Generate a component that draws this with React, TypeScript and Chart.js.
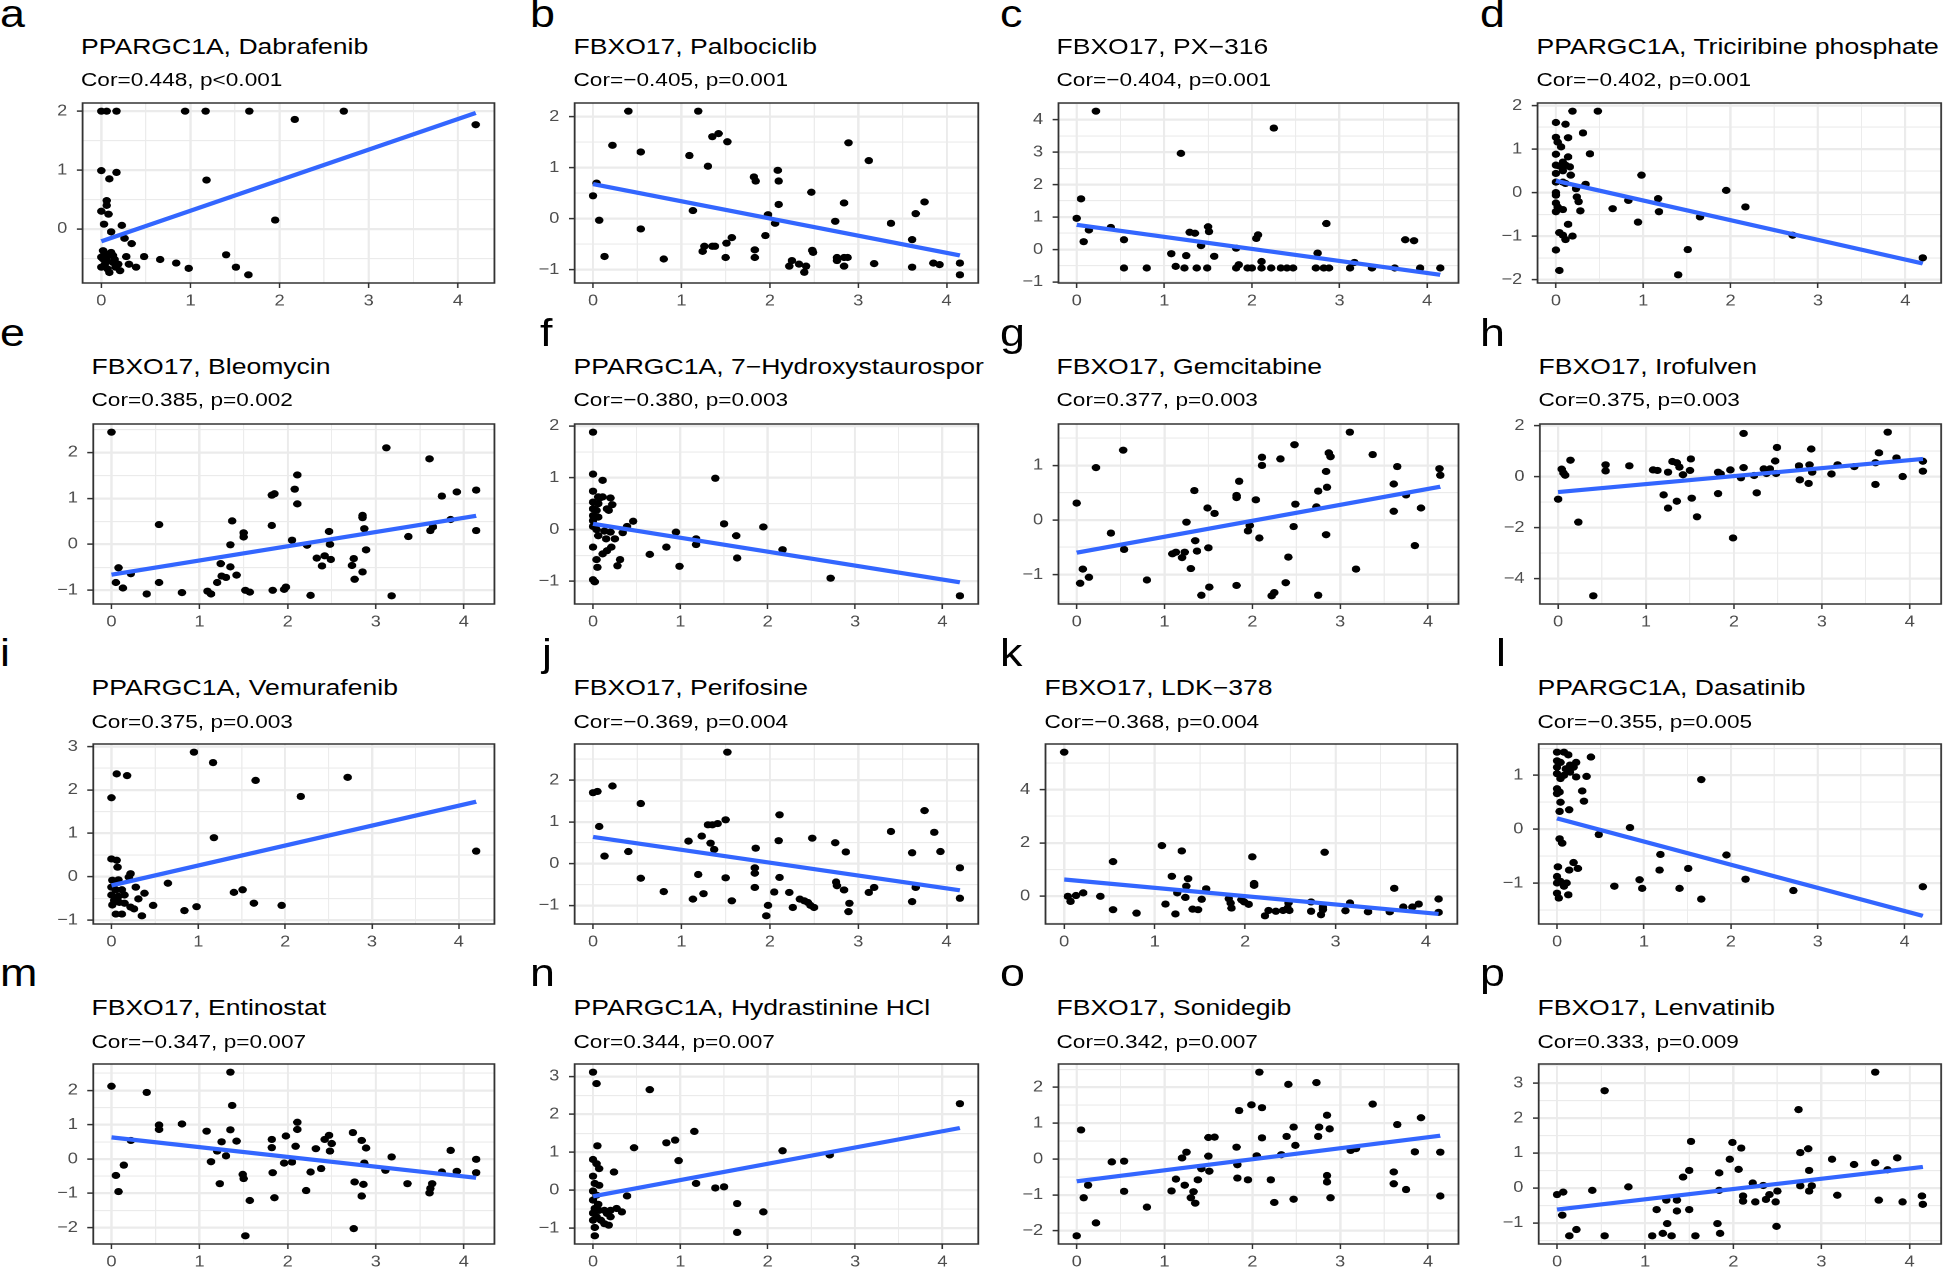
import React, { useEffect, useRef } from 'react';
import { Chart, registerables } from 'chart.js';
Chart.register(...registerables);

type P = [number, number];

// ---------- data ----------
const ptsA: P[] = [[0,2],[0.06,2],[0.17,2],[0.94,2],[1.17,2],[1.66,2],[2.72,2],[2.17,1.86],[4.2,1.77],[0,0.99],[0.17,0.96],[0.09,0.85],[1.18,0.83],[0.06,0.48],[0.06,0.4],[0,0.3],[0.08,0.25],[0.03,0.08],[0.23,0.06],[1.95,0.15],[0.11,-0.05],[0.26,-0.16],[0.34,-0.25],[0.02,-0.37],[0.04,-0.42],[0.09,-0.45],[0.13,-0.45],[0.02,-0.51],[0.06,-0.54],[0.13,-0.57],[0.19,-0.6],[0,-0.65],[0.07,-0.68],[0.16,-0.65],[0.09,-0.74],[0.21,-0.71],[0.28,-0.47],[0.31,-0.6],[0.39,-0.65],[0.48,-0.47],[0.66,-0.52],[0.84,-0.58],[0.98,-0.67],[1.4,-0.44],[1.51,-0.65],[1.65,-0.78],[0,-0.48],[0.04,-0.6],[0.11,-0.4],[0.15,-0.52]];
const fitA: P = [-0.21, 1.97];

const ptsB: P[] = [[0.4,2.11],[1.19,2.11],[0.22,1.44],[0.54,1.31],[1.35,1.61],[1.42,1.67],[1.52,1.51],[1.09,1.24],[1.3,1.03],[2.89,1.49],[3.12,1.14],[1.82,0.82],[1.84,0.74],[2.09,0.95],[2.1,0.74],[0.04,0.7],[0,0.45],[2.47,0.52],[2.84,0.31],[3.75,0.33],[2.1,0.28],[1.13,0.16],[3.65,0.1],[1.98,0.08],[0.07,-0.03],[2.06,-0.09],[2.74,-0.05],[3.37,-0.09],[0.54,-0.2],[1.95,-0.33],[1.57,-0.37],[3.61,-0.41],[1.51,-0.48],[1.26,-0.54],[1.35,-0.54],[1.38,-0.54],[1.24,-0.64],[1.83,-0.61],[2.48,-0.62],[2.49,-0.66],[0.13,-0.74],[1.83,-0.76],[1.5,-0.76],[0.8,-0.79],[2.76,-0.76],[2.76,-0.82],[2.84,-0.76],[2.88,-0.76],[2.25,-0.82],[2.33,-0.89],[2.22,-0.93],[2.41,-0.93],[2.84,-0.93],[2.39,-1.05],[3.18,-0.88],[3.61,-0.95],[3.85,-0.87],[3.92,-0.9],[4.15,-0.87],[4.15,-1.1]];
const fitB: P = [0.68, -0.72];

const ptsC: P[] = [[0.22,4.26],[2.25,3.74],[1.19,2.96],[0.05,1.56],[0,0.96],[2.85,0.8],[0.39,0.68],[0.14,0.6],[1.5,0.7],[1.51,0.55],[1.29,0.53],[1.35,0.5],[0.08,0.24],[0.54,0.3],[2.07,0.45],[2.05,0.34],[3.75,0.3],[3.85,0.27],[1.42,0.12],[1.82,0.04],[1.08,-0.13],[1.25,-0.19],[1.57,-0.21],[2.75,-0.11],[2.11,-0.37],[1.85,-0.47],[3.17,-0.4],[0.54,-0.57],[0.8,-0.57],[1.13,-0.52],[1.23,-0.57],[1.37,-0.57],[1.49,-0.57],[1.82,-0.57],[1.95,-0.57],[2.0,-0.57],[2.11,-0.57],[2.22,-0.57],[2.33,-0.57],[2.4,-0.57],[2.47,-0.57],[2.73,-0.57],[2.82,-0.57],[2.88,-0.57],[3.12,-0.57],[3.37,-0.57],[3.63,-0.57],[3.92,-0.57],[4.15,-0.57]];
const fitC: P = [0.76, -0.78];

const ptsD: P[] = [[0.19,1.87],[0.48,1.87],[0,1.61],[0.11,1.57],[0.31,1.37],[0,1.27],[0.14,1.26],[0.02,1.16],[0.06,1.05],[0.39,0.89],[0,0.88],[0.14,0.82],[0.08,0.7],[0,0.63],[0.04,0.61],[0.11,0.63],[0.16,0.59],[0,0.44],[0.08,0.5],[0.17,0.4],[0.98,0.4],[0,0.24],[0.08,0.24],[0.11,0.21],[0.34,0.19],[0.23,0.09],[0,0],[0,-0.06],[1.95,0.05],[0.24,-0.1],[0.26,-0.21],[0.83,-0.18],[1.17,-0.14],[0,-0.24],[0.02,-0.33],[2.17,-0.33],[0.08,-0.39],[0,-0.44],[0.28,-0.42],[0.65,-0.37],[1.18,-0.44],[1.65,-0.56],[0.14,-0.73],[0.94,-0.68],[0.04,-0.92],[0.08,-0.98],[0.19,-1.0],[0.11,-1.08],[2.71,-0.98],[0,-1.32],[1.51,-1.31],[0.04,-1.79],[1.4,-1.89],[4.2,-1.5]];
const fitD: P = [0.27, -1.63];

const ptsE: P[] = [[0,2.44],[3.12,2.1],[3.61,1.86],[2.11,1.51],[2.08,1.2],[2.11,0.88],[1.85,1.1],[1.82,1.07],[3.75,1.05],[3.92,1.14],[4.14,1.18],[2.85,0.63],[2.85,0.58],[2.87,0.34],[3.85,0.54],[4.14,0.3],[3.62,0.3],[3.65,0.38],[3.37,0.17],[2.47,0.28],[0.54,0.43],[1.37,0.51],[1.82,0.41],[1.5,0.25],[1.5,0.16],[2.05,0.09],[1.35,-0.01],[2.22,-0.02],[2.48,0],[2.89,-0.12],[2.33,-0.3],[2.42,-0.25],[2.49,-0.33],[2.39,-0.47],[2.75,-0.31],[2.73,-0.46],[1.24,-0.42],[1.35,-0.49],[0.08,-0.51],[0.22,-0.64],[1.25,-0.69],[1.3,-0.72],[1.42,-0.67],[1.2,-0.83],[0.05,-0.83],[0.54,-0.83],[2.76,-0.76],[2.85,-0.6],[0.13,-0.95],[0.4,-1.08],[0.8,-1.05],[1.09,-1.02],[1.13,-1.08],[1.52,-1.0],[1.57,-1.04],[1.83,-1.0],[1.96,-0.98],[1.98,-0.93],[2.26,-1.11],[3.18,-1.12]];
const fitE: P = [-0.66, 0.62];

const ptsF: P[] = [[0,1.88],[0,1.07],[0.11,0.95],[1.4,0.99],[0,0.74],[0.06,0.63],[0.08,0.61],[0.11,0.63],[0.2,0.61],[0,0.53],[0.06,0.5],[0.22,0.48],[0,0.4],[0.04,0.37],[0.16,0.4],[0.18,0.37],[0,0.27],[0.06,0.24],[0,0.17],[0.46,0.16],[1.5,0.11],[1.95,0.05],[0.39,0.06],[0,0.06],[0.04,0],[0.13,-0.03],[0.2,-0.05],[0.34,-0.06],[0.95,-0.05],[0.06,-0.12],[0.15,-0.18],[0.25,-0.18],[1.64,-0.12],[1.18,-0.18],[1.18,-0.29],[0.84,-0.34],[0,-0.34],[0.21,-0.34],[0.16,-0.41],[2.17,-0.39],[0.11,-0.47],[0.65,-0.48],[1.65,-0.55],[0.31,-0.58],[0.04,-0.58],[0.28,-0.7],[0.05,-0.73],[0.99,-0.71],[2.72,-0.94],[0,-0.97],[0.02,-1.01],[4.2,-1.28]];
const fitF: P = [0.11, -1.02];

const ptsG: P[] = [[3.11,1.61],[2.48,1.38],[0.53,1.28],[3.37,1.2],[2.87,1.23],[2.89,1.16],[2.11,1.15],[2.32,1.12],[2.11,1.0],[0.22,0.96],[3.65,0.98],[4.13,0.94],[4.14,0.82],[2.84,0.89],[1.85,0.71],[3.61,0.66],[2.85,0.6],[2.75,0.53],[1.34,0.54],[1.82,0.45],[1.82,0.41],[2.04,0.37],[3.75,0.46],[0,0.31],[2.49,0.29],[2.73,0.24],[1.49,0.22],[3.92,0.22],[1.57,0.12],[3.61,0.16],[1.25,-0.04],[1.97,-0.1],[2.47,-0.12],[1.95,-0.2],[0.39,-0.24],[2.08,-0.33],[2.84,-0.27],[1.35,-0.38],[1.5,-0.51],[0.54,-0.54],[1.37,-0.57],[3.85,-0.47],[1.09,-0.62],[1.13,-0.59],[1.23,-0.59],[1.2,-0.69],[2.41,-0.68],[1.3,-0.89],[0.07,-0.9],[3.18,-0.9],[0.14,-1.05],[0.04,-1.16],[0.8,-1.1],[1.82,-1.2],[1.51,-1.23],[2.38,-1.15],[1.42,-1.38],[2.25,-1.33],[2.22,-1.39],[2.75,-1.38]];
const fitG: P = [-0.6, 0.61];

const ptsH: P[] = [[3.75,1.74],[2.11,1.69],[2.49,1.14],[2.88,1.08],[3.65,0.93],[0.14,0.64],[1.51,0.69],[3.85,0.73],[0.54,0.46],[0.81,0.42],[1.3,0.59],[1.35,0.54],[2.47,0.61],[2.74,0.42],[2.86,0.46],[3.18,0.46],[3.37,0.39],[3.61,0.54],[4.15,0.6],[1.08,0.26],[1.13,0.24],[0.54,0.22],[1.38,0.37],[1.25,0.17],[1.42,0.07],[1.5,0.24],[1.82,0.17],[1.85,0.1],[1.96,0.26],[2.11,0.35],[2.34,0.3],[2.41,0.3],[2.37,0.12],[2.23,0.04],[2.08,-0.05],[2.48,0.12],[2.89,0.17],[3.11,0.1],[2.75,-0.13],[2.85,-0.27],[3.92,0],[4.15,0.21],[0.04,0.29],[0.06,0.14],[0.08,0.05],[3.61,-0.31],[1.2,-0.72],[2.26,-0.64],[1.82,-0.67],[1.52,-0.85],[1.35,-0.97],[1.25,-1.24],[1.58,-1.58],[0,-0.89],[0.23,-1.79],[1.99,-2.41],[0.4,-4.68]];
const fitH: P = [-0.61, 0.69];

const ptsI: P[] = [[0.95,2.87],[1.17,2.63],[0.06,2.37],[0.18,2.33],[2.72,2.29],[1.66,2.22],[2.18,1.85],[0,1.82],[1.18,0.9],[4.2,0.59],[0,0.41],[0.06,0.38],[0.07,0.22],[0.22,0.07],[0.2,-0.01],[0.01,-0.08],[0.08,-0.07],[0.65,-0.15],[0.28,-0.24],[0,-0.24],[0.05,-0.3],[0.12,-0.3],[0.38,-0.38],[1.41,-0.36],[1.51,-0.3],[0,-0.42],[0.08,-0.45],[0.15,-0.42],[0.31,-0.51],[0.03,-0.55],[0.09,-0.59],[0.01,-0.65],[0.48,-0.66],[1.64,-0.61],[1.96,-0.66],[0.98,-0.69],[0.84,-0.78],[0.22,-0.7],[0.26,-0.74],[0.05,-0.86],[0.12,-0.86],[0.35,-0.9],[0.06,-0.53],[0.15,-0.61]];
const fitI: P = [-0.2, 1.73];

const ptsJ: P[] = [[1.52,2.67],[0.22,1.86],[0,1.7],[0.05,1.73],[0.54,1.44],[2.11,1.17],[3.75,1.27],[1.5,1.05],[1.41,0.96],[1.3,0.93],[1.35,0.93],[3.37,0.77],[3.86,0.75],[0.07,0.89],[1.23,0.66],[1.08,0.54],[2.1,0.55],[2.48,0.61],[1.33,0.49],[2.74,0.5],[1.37,0.34],[1.84,0.37],[0.4,0.29],[2.86,0.28],[3.61,0.26],[3.93,0.29],[0.13,0.18],[4.15,-0.1],[1.83,-0.1],[1.83,-0.23],[1.19,-0.26],[0.54,-0.35],[1.5,-0.34],[2.11,-0.33],[2.75,-0.44],[2.76,-0.53],[1.83,-0.57],[2.84,-0.63],[3.18,-0.57],[3.12,-0.69],[3.65,-0.57],[0.8,-0.67],[1.25,-0.72],[2.05,-0.68],[2.22,-0.69],[4.15,-0.83],[1.13,-0.85],[1.57,-0.89],[2.34,-0.85],[2.39,-0.89],[2.43,-0.93],[2.46,-1.0],[2.5,-1.05],[2.9,-0.95],[3.61,-0.91],[1.98,-1.0],[2.26,-1.05],[2.89,-1.15],[1.96,-1.25]];
const fitJ: P = [0.64, -0.64];

const ptsK: P[] = [[0,5.4],[1.08,1.9],[1.3,1.7],[2.88,1.65],[2.08,1.48],[0.54,1.3],[1.19,0.75],[1.37,0.66],[2.1,0.48],[2.1,0.41],[1.35,0.38],[3.65,0.3],[1.57,0.28],[0.21,0.13],[1.25,0.13],[0.13,0.03],[0.4,0],[0.04,0],[0.07,-0.19],[1.34,-0.04],[1.52,-0.11],[1.82,-0.09],[1.96,-0.13],[1.84,-0.25],[1.99,-0.21],[2.04,-0.3],[1.12,-0.29],[2.73,-0.21],[3.16,-0.25],[4.14,-0.1],[2.48,-0.25],[2.86,-0.4],[1.85,-0.44],[1.42,-0.48],[1.48,-0.5],[0.54,-0.5],[2.26,-0.53],[2.34,-0.56],[2.42,-0.53],[2.49,-0.53],[2.47,-0.44],[2.73,-0.56],[2.86,-0.5],[3.11,-0.54],[3.36,-0.58],[3.6,-0.58],[3.75,-0.4],[3.85,-0.4],[3.92,-0.29],[4.14,-0.6],[0.8,-0.63],[1.23,-0.66],[2.84,-0.69],[2.22,-0.73]];
const fitK: P = [0.63, -0.66];

const ptsL: P[] = [[0,1.43],[0.08,1.43],[0.13,1.38],[0.39,1.34],[0,1.27],[0.04,1.24],[0.22,1.24],[0.15,1.19],[0,1.15],[0.1,1.12],[0.19,1.15],[0,1.03],[0.08,1.0],[0.15,1.06],[0.22,0.97],[0.34,0.98],[0.04,0.94],[1.66,0.92],[0,0.75],[0.03,0.69],[0,0.66],[0.29,0.71],[0.31,0.52],[0.04,0.5],[0.14,0.36],[0.03,0.33],[0.84,0.03],[0.48,-0.1],[0.03,-0.18],[0.06,-0.26],[1.19,-0.47],[1.95,-0.48],[0.19,-0.62],[0.24,-0.73],[0.14,-0.76],[0.01,-0.7],[1.51,-0.73],[1.18,-0.76],[0,-0.88],[0.04,-0.97],[0.11,-1.0],[0,-1.0],[0.08,-1.06],[0.95,-0.94],[2.17,-0.93],[0.66,-1.06],[0.98,-1.1],[1.41,-1.1],[4.21,-1.07],[0,-1.19],[0.13,-1.22],[0.02,-1.28],[2.72,-1.14],[1.66,-1.3]];
const fitL: P = [0.2, -1.61];

const ptsM: P[] = [[1.35,2.53],[0,2.12],[0.4,1.94],[1.37,1.56],[2.11,1.07],[0.54,0.99],[0.8,1.02],[0.54,0.86],[1.08,0.81],[1.35,0.85],[2.11,0.86],[2.74,0.77],[2.47,0.69],[1.98,0.67],[2.42,0.57],[1.82,0.57],[2.84,0.54],[1.25,0.5],[1.42,0.52],[0.22,0.54],[2.5,0.45],[2.09,0.37],[1.82,0.33],[2.32,0.3],[2.89,0.32],[3.85,0.25],[1.2,0.23],[2.48,0.23],[1.3,0.09],[3.18,0.06],[4.14,-0.01],[1.13,-0.08],[1.96,-0.12],[2.05,-0.09],[2.87,-0.12],[0.14,-0.18],[3.11,-0.33],[2.38,-0.28],[2.26,-0.38],[3.75,-0.38],[3.92,-0.36],[1.83,-0.4],[4.14,-0.4],[0.05,-0.48],[1.49,-0.45],[1.5,-0.57],[2.76,-0.67],[1.23,-0.72],[2.86,-0.74],[3.36,-0.72],[3.64,-0.72],[3.62,-0.86],[0.08,-0.95],[2.21,-0.92],[3.61,-0.99],[2.84,-1.08],[1.85,-1.13],[1.57,-1.21],[2.75,-2.03],[1.52,-2.24]];
const fitM: P = [0.63, -0.55];

const ptsN: P[] = [[0,3.11],[0.04,2.81],[0.65,2.65],[4.2,2.28],[1.16,1.55],[0.94,1.32],[0.84,1.25],[0.47,1.12],[0.05,1.17],[2.17,1.04],[2.71,0.93],[0,0.81],[0.98,0.78],[0.04,0.7],[0.07,0.57],[0.24,0.48],[0,0.37],[0.02,0.18],[0.07,0.13],[1.18,0.18],[1.4,0.06],[1.5,0.09],[0,-0.02],[0.04,-0.13],[0.39,-0.15],[0,-0.26],[0.06,-0.37],[1.65,-0.35],[0.02,-0.48],[0.13,-0.53],[0.27,-0.48],[0.33,-0.57],[0,-0.6],[0.16,-0.61],[1.95,-0.57],[0.04,-0.7],[0.09,-0.79],[0.2,-0.7],[0,-0.79],[0.13,-0.88],[0.18,-0.92],[0.02,-0.98],[1.65,-1.11],[0.02,-1.2],[0.07,-0.53],[0.2,-0.53]];
const fitN: P = [-0.16, 1.64];

const ptsO: P[] = [[2.08,2.42],[2.73,2.13],[2.41,2.08],[3.37,1.53],[1.99,1.51],[2.11,1.43],[1.85,1.35],[2.85,1.22],[3.92,1.15],[2.47,0.89],[2.76,0.89],[3.65,0.96],[2.88,0.84],[0.05,0.81],[1.5,0.6],[1.57,0.61],[2.39,0.63],[2.75,0.63],[2.11,0.59],[2.49,0.38],[1.82,0.33],[3.12,0.24],[3.18,0.29],[3.85,0.2],[4.14,0.19],[1.25,0.19],[2.05,0.09],[1.5,0.08],[2.33,0.12],[1.2,0.03],[0.4,-0.08],[0.54,-0.06],[1.83,-0.16],[1.42,-0.27],[1.51,-0.34],[1.38,-0.58],[1.13,-0.56],[1.83,-0.53],[1.95,-0.58],[2.21,-0.58],[2.85,-0.46],[2.85,-0.64],[3.61,-0.36],[3.61,-0.69],[0.13,-0.73],[1.23,-0.73],[3.75,-0.85],[1.08,-0.89],[1.33,-0.91],[0.54,-0.9],[0.08,-1.08],[1.3,-1.08],[2.89,-1.08],[2.47,-1.12],[4.14,-1.03],[1.35,-1.23],[2.25,-1.21],[0.8,-1.34],[0.22,-1.78],[0,-2.14]];
const fitO: P = [-0.62, 0.65];

const ptsP: P[] = [[3.61,3.31],[0.54,2.78],[2.74,2.24],[1.52,1.33],[1.99,1.3],[2.09,1.14],[2.85,1.12],[2.76,1.01],[1.96,0.82],[3.12,0.82],[3.86,0.86],[3.61,0.72],[3.37,0.67],[2.06,0.53],[1.5,0.5],[2.86,0.5],[3.75,0.52],[1.84,0.43],[1.43,0.31],[2.22,0.14],[2.34,0.07],[2.76,0.06],[2.89,0.06],[0.81,0.03],[2.86,-0.09],[2.5,-0.09],[1.84,-0.07],[2.11,-0.23],[2.41,-0.19],[4.14,-0.23],[0.4,-0.07],[0.07,-0.12],[0,-0.19],[1.24,-0.35],[1.36,-0.35],[2.11,-0.38],[2.25,-0.4],[2.37,-0.33],[2.48,-0.4],[3.65,-0.35],[3.92,-0.4],[3.18,-0.21],[4.15,-0.47],[1.13,-0.62],[1.5,-0.62],[1.36,-0.66],[0.06,-0.78],[1.82,-1.02],[1.25,-1.02],[2.49,-1.1],[1.85,-1.3],[1.2,-1.3],[0.22,-1.19],[0.14,-1.37],[0.54,-1.37],[1.08,-1.37],[1.3,-1.37],[1.57,-1.37]];
const fitP: P = [-0.62, 0.6];

const LETTERS = ['a','b','c','d','e','f','g','h','i','j','k','l','m','n','o','p'];
const GENES = ['PPARGC1A','FBXO17','FBXO17','PPARGC1A','FBXO17','PPARGC1A','FBXO17','FBXO17','PPARGC1A','FBXO17','FBXO17','PPARGC1A','FBXO17','PPARGC1A','FBXO17','FBXO17'];
const DRUGS = ['Dabrafenib','Palbociclib','PX\u2212316','Triciribine phosphate','Bleomycin','7\u2212Hydroxystaurospor','Gemcitabine','Irofulven','Vemurafenib','Perifosine','LDK\u2212378','Dasatinib','Entinostat','Hydrastinine HCl','Sonidegib','Lenvatinib'];
const CORS = ['0.448','\u22120.405','\u22120.404','\u22120.402','0.385','\u22120.380','0.377','0.375','0.375','\u22120.369','\u22120.368','\u22120.355','\u22120.347','0.344','0.342','0.333'];
const PVALS = ['<0.001','=0.001','=0.001','=0.001','=0.002','=0.003','=0.003','=0.003','=0.003','=0.004','=0.004','=0.005','=0.007','=0.007','=0.007','=0.009'];
const Y_STEPS = [1,1,1,1, 1,1,1,2, 1,1,2,1, 1,1,1,1];
const POINTS = [ptsA,ptsB,ptsC,ptsD,ptsE,ptsF,ptsG,ptsH,ptsI,ptsJ,ptsK,ptsL,ptsM,ptsN,ptsO,ptsP];
const FITS = [fitA,fitB,fitC,fitD,fitE,fitF,fitG,fitH,fitI,fitJ,fitK,fitL,fitM,fitN,fitO,fitP];

// ---------- layout (reference pixels) ----------
const S = 1.18; // horizontal stretch of the reference figure
const FONT = '"Liberation Sans", Arial, Helvetica, sans-serif';
const ROW_TOP = [103, 424, 744, 1064];
const BOX_H = 180;
const COL_RIGHT = [494, 978, 1458, 1941];
const BOX_LEFT = [[82.5, 575, 1058, 1538], [93, 575, 1058, 1540], [93, 575, 1046, 1539], [93, 575, 1058, 1539]];
const TITLE_BASE = [55, 375, 696, 1016];
const SUB_BASE = [86.5, 406.5, 728, 1048];
const LETTER_BASE = [27, 346, 666, 986];
const LETTER_X = [[0, 530, 1000, 1480], [0, 540, 1000, 1480], [0, 542, 1000, 1496], [0, 530, 1000, 1480]];
const YW = 40, PT = 26, PR = 8, XH = 32;

const fmt = (v: number) => (v < 0 ? '\u2212' + Math.abs(v) : String(v));
const isMajor = (v: number, step: number) => Math.abs(v / step - Math.round(v / step)) < 1e-6;
const makeTicks = (min: number, max: number, step: number) => {
  const out: { value: number }[] = [];
  for (let k = Math.ceil(min / step - 1e-9); k * step <= max + 1e-9; k++) out.push({ value: Math.round(k * step * 1000) / 1000 });
  return out;
};

const framePlugin = {
  id: 'frame',
  afterDraw(chart: any) {
    const { ctx, chartArea: a } = chart;
    ctx.save();
    ctx.strokeStyle = '#333333';
    ctx.lineWidth = 1.5;
    ctx.strokeRect(a.left, a.top, a.right - a.left, a.bottom - a.top);
    ctx.restore();
  },
};

function axis(min: number, max: number, step: number, horizontal: boolean) {
  const minor = step / 2;
  return {
    type: 'linear',
    min,
    max,
    afterFit: (s: any) => { if (horizontal) s.height = XH; else s.width = YW; },
    afterBuildTicks: (s: any) => { s.ticks = makeTicks(s.min, s.max, minor); },
    border: { display: false },
    grid: {
      color: '#EBEBEB',
      lineWidth: (c: any) => (c.tick && isMajor(c.tick.value, step) ? (horizontal ? 1.9 : 2.2) : (horizontal ? 0.95 : 1.1)),
      tickColor: (c: any) => (c.tick && isMajor(c.tick.value, step) ? '#333333' : 'rgba(0,0,0,0)'),
      tickLength: 5,
      tickWidth: horizontal ? 1.3 : 1.5,
      drawTicks: true,
    },
    ticks: {
      autoSkip: false,
      maxRotation: 0,
      minRotation: 0,
      padding: horizontal ? 4 : 8,
      color: '#4D4D4D',
      font: { family: FONT, size: 15.5 },
      callback: (v: any) => (isMajor(Number(v), step) ? fmt(Number(v)) : ''),
    },
  };
}

function Panel({ idx }: { idx: number }) {
  const ref = useRef<HTMLCanvasElement>(null);
  const r = Math.floor(idx / 4), c = idx % 4;
  const left = BOX_LEFT[r][c], right = COL_RIGHT[c], top = ROW_TOP[r];
  const boxW = (right - left) / S;
  const cw = boxW + YW + PR;
  const ch = BOX_H + PT + XH;
  const cl = left / S - YW;
  const ct = top - PT;

  useEffect(() => {
    const pts = POINTS[idx];
    const fit = FITS[idx];
    const xs = pts.map((p) => p[0]);
    const ys = pts.map((p) => p[1]);
    const xmin = Math.min(...xs), xmax = Math.max(...xs);
    const ymin = Math.min(...ys, ...fit), ymax = Math.max(...ys, ...fit);
    const xr = xmax - xmin, yr = ymax - ymin;
    const chart = new Chart(ref.current as HTMLCanvasElement, {
      type: 'scatter',
      data: {
        datasets: [
          {
            data: pts.map(([x, y]) => ({ x, y })),
            pointRadius: 3.6,
            pointHoverRadius: 3.6,
            pointBackgroundColor: '#000000',
            backgroundColor: '#000000',
            pointBorderWidth: 0,
            borderWidth: 0,
            order: 1,
          },
          {
            data: [{ x: xmin, y: fit[0] }, { x: xmax, y: fit[1] }],
            showLine: true,
            borderColor: '#3366FF',
            borderWidth: 4.2,
            pointRadius: 0,
            order: 0,
          },
        ],
      },
      options: {
        animation: false,
        responsive: false,
        devicePixelRatio: 2,
        layout: { padding: { left: 0, top: PT, right: PR, bottom: 0 } },
        plugins: { legend: { display: false }, tooltip: { enabled: false }, title: { display: false } },
        scales: {
          x: axis(xmin - 0.05 * xr, xmax + 0.05 * xr, 1, true) as any,
          y: axis(ymin - 0.05 * yr, ymax + 0.05 * yr, Y_STEPS[idx], false) as any,
        },
      },
      plugins: [framePlugin],
    } as any);
    return () => chart.destroy();
  }, [idx]);

  const titleFs = 22.5, subFs = 19.2, letterFs = 38;
  const textStyle = (x: number, base: number, fs: number): React.CSSProperties => ({
    position: 'absolute',
    left: x / S,
    top: base - 0.8465 * fs,
    fontSize: fs,
    lineHeight: `${fs}px`,
    fontFamily: FONT,
    color: '#000',
    whiteSpace: 'nowrap',
  });

  return (
    <>
      <canvas
        ref={ref}
        width={Math.round(cw)}
        height={Math.round(ch)}
        style={{ position: 'absolute', left: cl, top: ct, width: Math.round(cw), height: Math.round(ch) }}
      />
      <div style={textStyle(LETTER_X[r][c], LETTER_BASE[r], letterFs)}>{LETTERS[idx]}</div>
      <div style={textStyle(left - 1.5, TITLE_BASE[r], titleFs)}>{`${GENES[idx]}, ${DRUGS[idx]}`}</div>
      <div style={textStyle(left - 1.5, SUB_BASE[r], subFs)}>{`Cor=${CORS[idx]}, p${PVALS[idx]}`}</div>
    </>
  );
}

export default function App() {
  return (
    <div
      style={{
        position: 'absolute',
        left: 0,
        top: 0,
        width: 1944 / S,
        height: 1270,
        transform: `scaleX(${S})`,
        transformOrigin: '0 0',
        background: '#ffffff',
        overflow: 'hidden',
      }}
    >
      {LETTERS.map((_, i) => (
        <Panel key={i} idx={i} />
      ))}
    </div>
  );
}
